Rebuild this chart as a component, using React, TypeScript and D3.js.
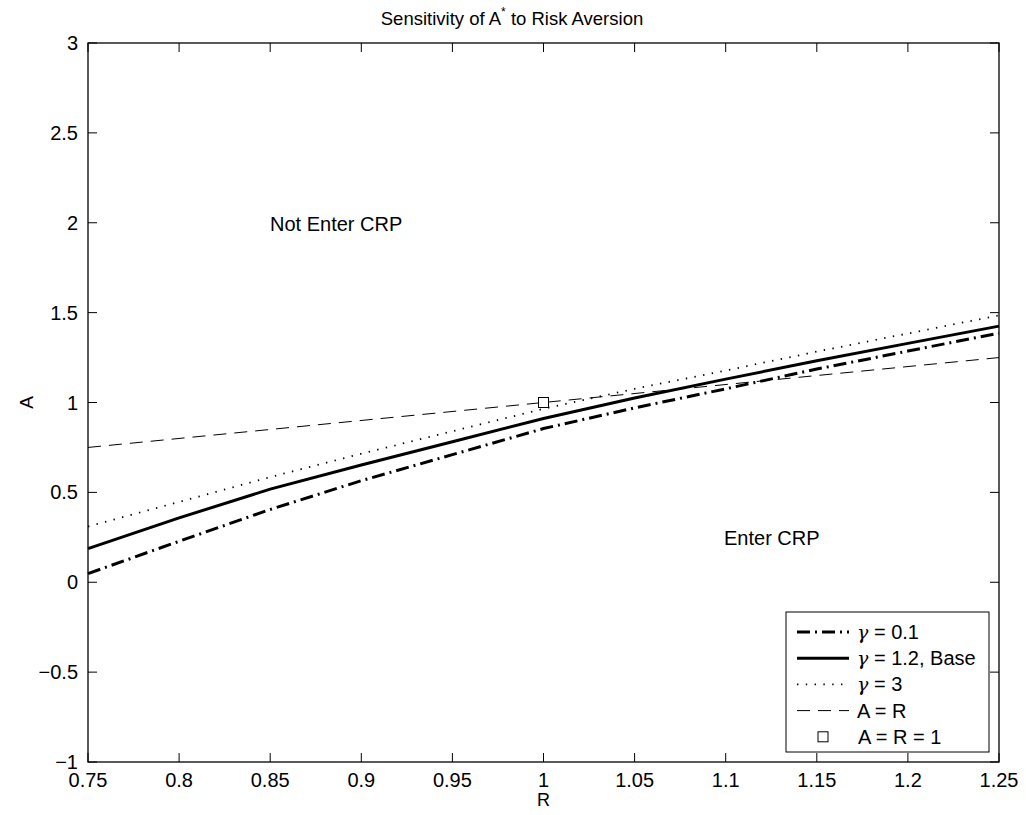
import * as d3 from "d3";

const R = [0.75, 0.8, 0.85, 0.9, 0.95, 1.0, 1.05, 1.1, 1.15, 1.2, 1.25];
const gamma01 = [0.048, 0.228, 0.405, 0.565, 0.71, 0.855, 0.97, 1.076, 1.186, 1.286, 1.386];
const gamma12 = [0.187, 0.358, 0.518, 0.652, 0.782, 0.911, 1.025, 1.13, 1.232, 1.329, 1.425];
const gamma3 = [0.31, 0.447, 0.585, 0.715, 0.84, 0.965, 1.076, 1.178, 1.283, 1.384, 1.485];
const diagR = [0.75, 1.25];
const xTicks = [0.75, 0.8, 0.85, 0.9, 0.95, 1, 1.05, 1.1, 1.15, 1.2, 1.25];
const yTicks = [-1, -0.5, 0, 0.5, 1, 1.5, 2, 2.5, 3];

const W = 1026;
const H = 815;
const M = { left: 88, right: 27, top: 43, bottom: 53 };
const FONT = "'Liberation Sans', Arial, Helvetica, sans-serif";
const TICK = 9;

const fmt = (v: number) => {
  const s = String(v);
  return v < 0 ? "\u2212" + s.slice(1) : s;
};

export default function App() {
  const x = d3.scaleLinear().domain([0.75, 1.25]).range([M.left, W - M.right]);
  const y = d3.scaleLinear().domain([-1, 3]).range([H - M.bottom, M.top]);
  const line = d3
    .line<number>()
    .x((_, i) => x(R[i]))
    .y((d) => y(d));
  const diag = d3
    .line<number>()
    .x((d) => x(d))
    .y((d) => y(d));

  const [x0, x1] = x.range();
  const [y0, y1] = y.range();

  const series = [
    { label: "0.1", d: line(gamma01), w: 3, dash: "13 5 2 5" },
    { label: "1.2, Base", d: line(gamma12), w: 3, dash: "none" },
    { label: "3", d: line(gamma3), w: 1.8, dash: "1.4 7.4" },
  ];

  const lg = { x: 786, y: 612, w: 203, h: 140 };
  const rowY = (i: number) => lg.y + 20 + i * 26.2;

  return (
    <svg width={W} height={H} style={{ display: "block", position: "absolute", left: 0, top: 0 }} fontFamily={FONT}>
      <rect width={W} height={H} fill="#fff" />

      <path d={diag(diagR) || ""} fill="none" stroke="#000" strokeWidth={1} strokeDasharray="13 8" />
      {series.map((s, i) => (
        <path
          key={i}
          d={s.d || ""}
          fill="none"
          stroke="#000"
          strokeWidth={s.w}
          strokeDasharray={s.dash}
        />
      ))}
      <rect x={x(1) - 5} y={y(1) - 5} width={10} height={10} fill="#fff" stroke="#000" strokeWidth={1} />

      {/* axes box */}
      <rect x={x0} y={y1} width={x1 - x0} height={y0 - y1} fill="none" stroke="#000" strokeWidth={1.3} />
      {xTicks.map((t) => (
        <g key={"x" + t}>
          <line x1={x(t)} x2={x(t)} y1={y0} y2={y0 - TICK} stroke="#000" />
          <line x1={x(t)} x2={x(t)} y1={y1} y2={y1 + TICK} stroke="#000" />
          <text x={x(t)} y={y0 + 25} textAnchor="middle" fontSize={20}>
            {fmt(t)}
          </text>
        </g>
      ))}
      {yTicks.map((t) => (
        <g key={"y" + t}>
          <line x1={x0} x2={x0 + TICK} y1={y(t)} y2={y(t)} stroke="#000" />
          <line x1={x1} x2={x1 - TICK} y1={y(t)} y2={y(t)} stroke="#000" />
          <text x={x0 - 10} y={y(t) + 7} textAnchor="end" fontSize={20}>
            {fmt(t)}
          </text>
        </g>
      ))}

      <text x={(x0 + x1) / 2} y={806} textAnchor="middle" fontSize={18}>
        R
      </text>
      <text transform={`translate(33,${y(1)}) rotate(-90)`} textAnchor="middle" fontSize={19}>
        A
      </text>
      <text x={512} y={25} textAnchor="middle" fontSize={18.5}>
        Sensitivity of A<tspan dy={-9} fontSize={12}>*</tspan>
        <tspan dy={9}> to Risk Aversion</tspan>
      </text>

      <text x={270} y={231} fontSize={20}>
        Not Enter CRP
      </text>
      <text x={724} y={545} fontSize={20}>
        Enter CRP
      </text>

      {/* legend */}
      <rect x={lg.x} y={lg.y} width={lg.w} height={lg.h} fill="#fff" stroke="#000" strokeWidth={1} />
      {series.map((s, i) => (
        <g key={"l" + i}>
          <line
            x1={797}
            x2={849}
            y1={rowY(i)}
            y2={rowY(i)}
            stroke="#000"
            strokeWidth={s.w}
            strokeDasharray={s.dash}
          />
          <text x={857} y={rowY(i) + 7} fontSize={20}>
            <tspan fontFamily="'DejaVu Serif', serif" fontStyle="italic" fontSize={19}>
              {"\u03b3"}
            </tspan>
            {" = " + s.label}
          </text>
        </g>
      ))}
      <line x1={797} x2={849} y1={rowY(3)} y2={rowY(3)} stroke="#000" strokeWidth={1} strokeDasharray="13 8" />
      <text x={857} y={rowY(3) + 7} fontSize={20}>
        A = R
      </text>
      <rect x={823 - 5} y={rowY(4) - 5} width={10} height={10} fill="#fff" stroke="#000" strokeWidth={1} />
      <text x={858} y={rowY(4) + 7} fontSize={20}>
        A = R = 1
      </text>
    </svg>
  );
}
